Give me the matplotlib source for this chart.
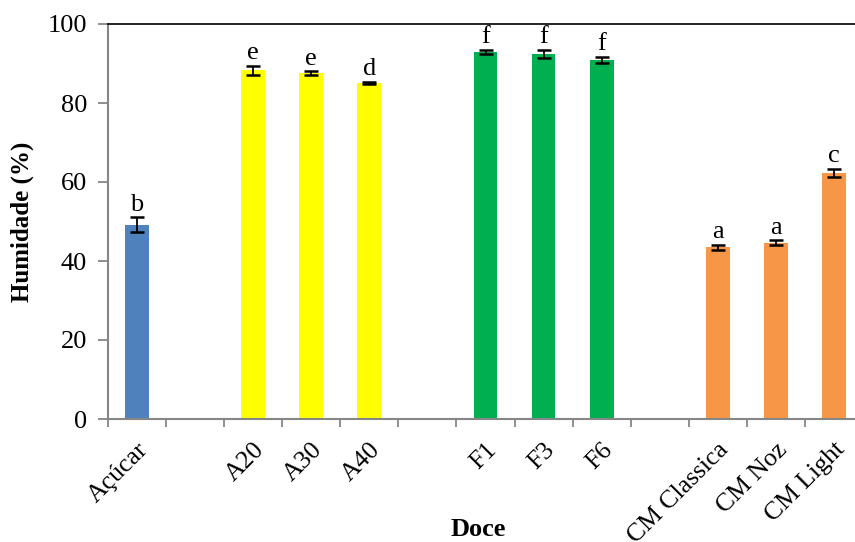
import matplotlib
matplotlib.use("Agg")
import matplotlib.pyplot as plt

plt.rcParams['font.family'] = ['Liberation Serif', 'DejaVu Serif']

# categories (empty strings are the gaps between groups)
categories = ['Açúcar', '', 'A20', 'A30', 'A40', '', 'F1', 'F3', 'F6', '',
              'CM Classica', 'CM Noz', 'CM Light']
humidade = [49.2, None, 88.3, 87.6, 85.1, None, 92.9, 92.4, 90.9, None,
            43.5, 44.6, 62.3]
erro = [1.9, None, 1.1, 0.4, 0.3, None, 0.5, 1.0, 0.8, None,
        0.6, 0.6, 1.0]
letras = ['b', '', 'e', 'e', 'd', '', 'f', 'f', 'f', '', 'a', 'a', 'c']
cores = ['#4F81BD', None, '#FFFF00', '#FFFF00', '#FFFF00', None,
         '#00B050', '#00B050', '#00B050', None, '#F79646', '#F79646', '#F79646']

fig = plt.figure(figsize=(8.55, 5.42), dpi=100)
ax = fig.add_axes([108 / 855, 1 - 419 / 542, 755 / 855, 395 / 542])

for i, v in enumerate(humidade):
    if v is None:
        continue
    ax.bar(i + 0.5, v, width=0.41, color=cores[i], zorder=2)
    ax.errorbar(i + 0.5, v, yerr=erro[i], fmt='none', ecolor='black',
                elinewidth=1.3, capsize=5, capthick=1.8, zorder=3)
    ax.text(i + 0.5, v + erro[i] + 0.4, letras[i], ha='center', va='bottom',
            fontsize=19)

ax.set_xlim(0, len(categories))
ax.set_ylim(0, 100)
ax.set_yticks([0, 20, 40, 60, 80, 100])
ax.set_xticks(range(len(categories) + 1))
ax.set_xticklabels([])
ax.set_xticks([i + 0.5 for i in range(len(categories))], minor=True)
ax.set_xticklabels(categories, minor=True, rotation=45, ha='right',
                   va='top', rotation_mode='anchor', fontsize=18.5)
ax.tick_params(axis='x', which='minor', length=0, pad=14)
ax.tick_params(axis='x', which='major', length=6, color='#868686', width=1.3)
ax.tick_params(axis='y', length=7, color='#868686', width=1.3, labelsize=19,
               pad=8)

for s in ['left', 'bottom']:
    ax.spines[s].set_color('#868686')
    ax.spines[s].set_linewidth(1.5)
ax.spines['top'].set_color('black')
ax.spines['top'].set_linewidth(1.2)
ax.spines['right'].set_visible(False)

ax.set_ylabel('Humidade (%)', fontsize=18, fontweight='bold')
ax.yaxis.set_label_coords(-(108 - 34) / 755, 0.5)
fig.text(478 / 855, 1 - 529 / 542, 'Doce', fontsize=19, fontweight='bold',
         ha='center', va='center')

fig.savefig('out.png', dpi=100)
